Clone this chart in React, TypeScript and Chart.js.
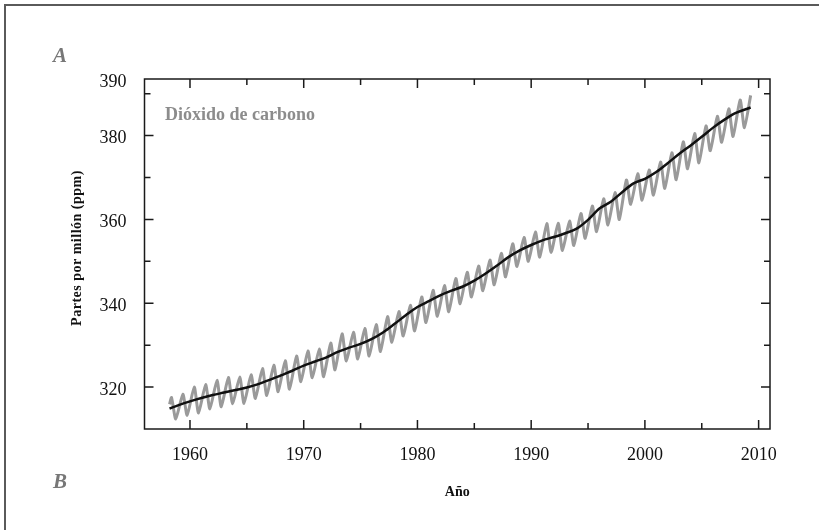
import React, { useEffect, useRef } from "react";
import { Chart, registerables } from "chart.js";

Chart.register(...registerables);

// Mauna Loa CO2 record (ppm): yearly seasonal maximum (about May) and minimum (about late September)
const years = [
  1958, 1959, 1960, 1961, 1962, 1963, 1964, 1965, 1966, 1967, 1968, 1969,
  1970, 1971, 1972, 1973, 1974, 1975, 1976, 1977, 1978, 1979, 1980, 1981,
  1982, 1983, 1984, 1985, 1986, 1987, 1988, 1989, 1990, 1991, 1992, 1993,
  1994, 1995, 1996, 1997, 1998, 1999, 2000, 2001, 2002, 2003, 2004, 2005,
  2006, 2007, 2008,
];
const seasonalMax = [
  317.5, 318.3, 320.0, 320.6, 321.6, 322.3, 322.4, 322.9, 324.4, 325.2, 326.3, 327.4,
  328.6, 329.1, 330.5, 332.7, 333.1, 334.0, 334.9, 336.8, 338.0, 339.5, 341.5, 343.1,
  344.2, 345.9, 347.4, 348.9, 350.3, 351.9, 354.2, 355.7, 357.0, 359.0, 359.1, 359.6,
  361.4, 363.2, 364.9, 366.4, 369.4, 370.9, 371.8, 373.7, 375.9, 378.5, 380.5, 382.3,
  384.6, 386.4, 388.5,
];
const seasonalMin = [
  312.4, 313.3, 313.8, 314.8, 315.3, 316.0, 316.1, 317.3, 318.0, 318.9, 319.5, 321.3,
  322.2, 322.5, 324.1, 326.2, 326.7, 327.4, 328.5, 330.7, 332.2, 333.4, 335.4, 336.9,
  338.0, 339.9, 341.5, 343.0, 344.4, 346.3, 348.8, 350.0, 351.0, 352.1, 352.6, 353.8,
  355.5, 357.1, 358.7, 360.0, 363.6, 364.6, 365.8, 367.4, 369.5, 372.1, 373.5, 376.4,
  378.4, 379.8, 381.9,
];
// first and last monthly readings of the record
const recordStart = { x: 1958.2, y: 315.9 };
const recordEnd = { x: 2009.3, y: 389.6 };
const MAX_OFFSET = 0.375; // May
const MIN_OFFSET = 0.75; // late September

// smoothed (deseasonalised) trend
const trendYears = [
  1958.2, 1959, 1960, 1961, 1962, 1963, 1964, 1965, 1966, 1967, 1968, 1969,
  1970, 1971, 1972, 1973, 1974, 1975, 1976, 1977, 1978, 1979, 1980, 1981,
  1982, 1983, 1984, 1985, 1986, 1987, 1988, 1989, 1990, 1991, 1992, 1993,
  1994, 1995, 1996, 1997, 1998, 1999, 2000, 2001, 2002, 2003, 2004, 2005,
  2006, 2007, 2008, 2009.3,
];
const trendValues = [
  314.9, 315.7, 316.6, 317.4, 318.1, 318.7, 319.3, 319.9, 320.7, 321.7, 322.8, 323.9,
  325.1, 326.1, 327.1, 328.4, 329.4, 330.3, 331.5, 333.1, 335.1, 337.2, 339.1, 340.5,
  341.9, 343.0, 344.0, 345.4, 347.1, 349.0, 351.0, 352.6, 353.9, 355.0, 355.8, 356.7,
  357.8, 359.9, 362.6, 364.2, 366.5, 368.6, 369.7, 371.3, 373.4, 375.6, 377.6, 379.7,
  381.9, 383.8, 385.4, 386.7,
];

// axes
const X_MIN = 1956;
const X_MAX = 2011;
const xLabelTicks = [1960, 1970, 1980, 1990, 2000, 2010];
const xMinorTicks = [1965, 1975, 1985, 1995, 2005];
const Y_MIN = 310;
const Y_MAX = 393.5;
const yLabelTicks = [320, 340, 360, 380];
const yMinorTicks = [330, 350, 370, 390];
const yTopLabel = "390";

const seriesLabel = "Dióxido de carbono";
const xTitle = "Año";
const yTitle = "Partes por millón (ppm)";
const panelLabels = ["A", "B"];

const SERIF = "'Liberation Serif', 'DejaVu Serif', serif";

function buildRecord() {
  const pts: { x: number; y: number }[] = [recordStart];
  years.forEach((yr, i) => {
    pts.push({ x: yr + MAX_OFFSET, y: seasonalMax[i] });
    pts.push({ x: yr + MIN_OFFSET, y: seasonalMin[i] });
  });
  pts.push(recordEnd);
  return pts;
}

const decorations = {
  id: "decorations",
  afterDatasetsDraw(chart: any) {
    const { ctx, chartArea } = chart;
    const xs = chart.scales.x;
    const ys = chart.scales.y;
    const { left, right, top, bottom } = chartArea;
    ctx.save();

    // plot frame
    ctx.strokeStyle = "#1a1a1a";
    ctx.lineWidth = 1.5;
    ctx.strokeRect(left, top, right - left, bottom - top);

    // inward tick marks on all four sides
    const xTick = (v: number, len: number) => {
      const px = xs.getPixelForValue(v);
      ctx.beginPath();
      ctx.moveTo(px, bottom);
      ctx.lineTo(px, bottom - len);
      ctx.moveTo(px, top);
      ctx.lineTo(px, top + len);
      ctx.stroke();
    };
    const yTick = (v: number, len: number) => {
      const py = ys.getPixelForValue(v);
      ctx.beginPath();
      ctx.moveTo(left, py);
      ctx.lineTo(left + len, py);
      ctx.moveTo(right, py);
      ctx.lineTo(right - len, py);
      ctx.stroke();
    };
    xLabelTicks.forEach((v) => xTick(v, 9));
    xMinorTicks.forEach((v) => xTick(v, 6));
    yLabelTicks.forEach((v) => yTick(v, 9));
    yMinorTicks.forEach((v) => yTick(v, 6));

    // series name
    ctx.fillStyle = "#8c8c8c";
    ctx.font = `bold 18px ${SERIF}`;
    ctx.textAlign = "left";
    ctx.textBaseline = "middle";
    ctx.fillText(seriesLabel, 165, 115);

    // axis titles
    ctx.fillStyle = "#111";
    ctx.font = `bold 14px ${SERIF}`;
    ctx.textAlign = "center";
    ctx.fillText(xTitle, (left + right) / 2, 492);
    ctx.save();
    ctx.translate(77, 248);
    ctx.rotate(-Math.PI / 2);
    (ctx as any).letterSpacing = "0.5px";
    ctx.fillText(yTitle, 0, 0);
    ctx.restore();

    // panel letters
    ctx.fillStyle = "#777777";
    ctx.font = `italic bold 21px ${SERIF}`;
    ctx.fillText(panelLabels[0], 60, 57);
    ctx.fillText(panelLabels[1], 60, 483);

    // page frame
    ctx.strokeStyle = "#5a5a5a";
    ctx.lineWidth = 2;
    ctx.beginPath();
    ctx.moveTo(5, 530);
    ctx.lineTo(5, 5);
    ctx.lineTo(819, 5);
    ctx.stroke();

    ctx.restore();
  },
};

export default function App() {
  const canvasRef = useRef<HTMLCanvasElement | null>(null);

  useEffect(() => {
    document.body.style.margin = "0";
    document.body.style.background = "#ffffff";
    const canvas = canvasRef.current;
    if (!canvas) return;

    const tickFont = { family: SERIF, size: 18 };

    const chart = new Chart(canvas, {
      type: "line",
      data: {
        datasets: [
          {
            // trend listed first so it is painted above the seasonal record
            label: "Tendencia",
            data: trendYears.map((x, i) => ({ x, y: trendValues[i] })),
            borderColor: "#111111",
            borderWidth: 2.5,
            pointRadius: 0,
            cubicInterpolationMode: "monotone",
          },
          {
            label: seriesLabel,
            data: buildRecord(),
            borderColor: "#9a9a9a",
            borderWidth: 3,
            pointRadius: 0,
            tension: 0.2,
            borderJoinStyle: "round",
          },
        ],
      },
      options: {
        animation: false,
        responsive: false,
        maintainAspectRatio: false,
        layout: { padding: { left: 0, right: 49, top: 79, bottom: 0 } },
        plugins: {
          legend: { display: false },
          tooltip: { enabled: false },
        },
        scales: {
          x: {
            type: "linear",
            min: X_MIN,
            max: X_MAX,
            afterBuildTicks: (s: any) => {
              s.ticks = xLabelTicks.map((v) => ({ value: v }));
            },
            afterFit: (s: any) => {
              s.height = 101;
            },
            grid: { display: false, drawTicks: false },
            border: { display: false },
            ticks: {
              font: tickFont,
              color: "#111",
              padding: 15,
              maxRotation: 0,
              autoSkip: false,
              callback: (v: any) => String(v),
            },
          },
          y: {
            type: "linear",
            min: Y_MIN,
            max: Y_MAX,
            afterBuildTicks: (s: any) => {
              s.ticks = [...yLabelTicks, Y_MAX].map((v) => ({ value: v }));
            },
            afterFit: (s: any) => {
              s.width = 144.5;
            },
            grid: { display: false, drawTicks: false },
            border: { display: false },
            ticks: {
              font: tickFont,
              color: "#111",
              padding: 18,
              labelOffset: 3,
              autoSkip: false,
              callback: (v: any) => (v === Y_MAX ? yTopLabel : String(v)),
            },
          },
        },
      },
      plugins: [decorations],
    });

    return () => chart.destroy();
  }, []);

  return (
    <div style={{ width: 819, height: 530 }}>
      <canvas ref={canvasRef} width={819} height={530} style={{ display: "block" }} />
    </div>
  );
}
